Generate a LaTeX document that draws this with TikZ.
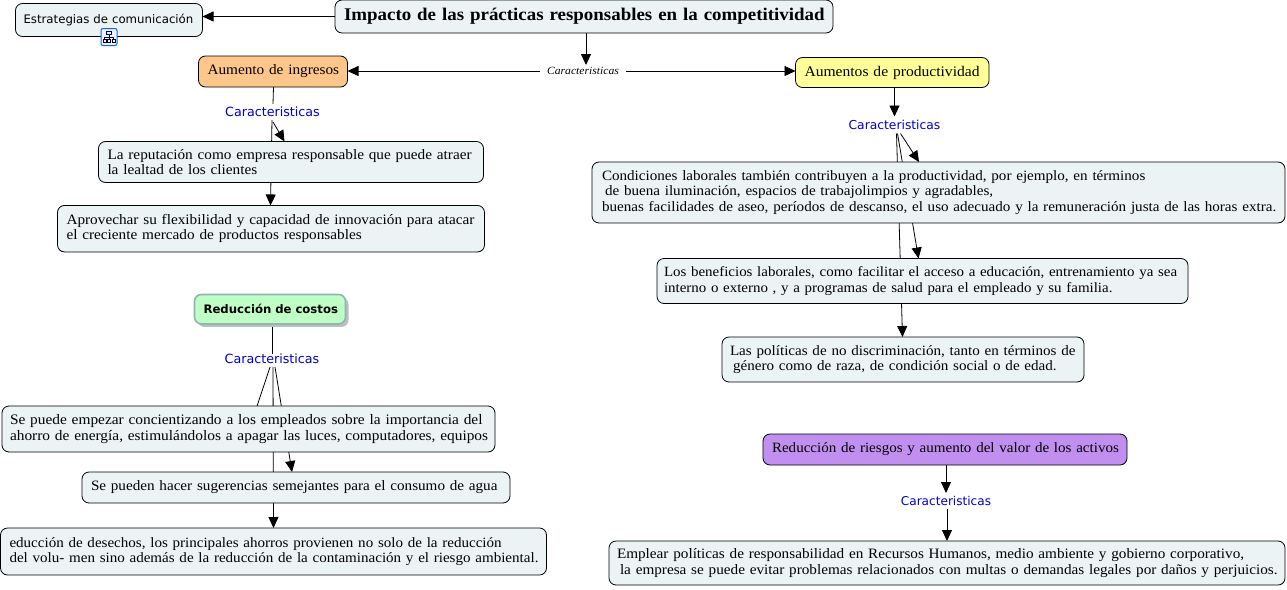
\documentclass[tikz,border=0pt]{standalone}
\usepackage{fontspec}
\setmainfont[FakeStretch=1.06]{Liberation Serif}
\newfontfamily\sansf{DejaVu Sans}
\usetikzlibrary{arrows.meta,backgrounds,shadows}
\newcommand\oneline[1]{\mbox{}\rlap{#1}}
\definecolor{boxfill}{HTML}{ECF3F5}
\definecolor{linkblue}{HTML}{0000CC}
\definecolor{peach}{HTML}{FFC68C}
\definecolor{lemon}{HTML}{FFFF99}
\definecolor{mint}{HTML}{BFFFC5}
\definecolor{mintedge}{HTML}{8FB5B5}
\definecolor{violet}{HTML}{C08FF0}
\tikzset{
  concept/.style={draw=black,line width=0.8pt,rounded corners=7pt,fill=boxfill,anchor=west,align=left,
    inner xsep=9pt,inner ysep=0pt,outer sep=0pt},
  fs/.style={font=\fontsize{#1}{15.5}\selectfont},
  carac/.style={anchor=center,inner sep=0pt,outer sep=0pt,minimum height=16pt,text=linkblue,font=\sansf\fontsize{#1}{14}\selectfont},
  conn/.style={draw=black,line width=0.8pt},
  arr/.style={conn,-{Triangle[length=11pt,width=10pt]}}
}
\begin{document}
\begin{tikzpicture}[x=1pt,y=-1pt]
\useasboundingbox (0,0) rectangle (1287,589);
% top
\node[concept,text width=171pt,minimum height=33pt,inner xsep=8pt,font=\sansf\fontsize{11.75}{14}\selectfont] (estr) at (15.5,20) {\oneline{Estrategias de comunicación}};
\node[concept,text width=480pt,minimum height=33pt,font=\fontsize{17.85}{20}\selectfont\bfseries] (main) at (335,16.5) {\oneline{Impacto de las prácticas responsables en la competitividad}};
\node[anchor=center,inner xsep=7pt,inner ysep=0pt,outer sep=0pt,minimum height=12pt,font=\fontsize{11}{12}\selectfont\itshape] (lk) at (583,71) {Caracteristicas};
\node[concept,fill=peach,fs=14.4,text width=131pt,minimum height=31pt] (ing) at (198.5,71.5) {\oneline{Aumento de ingresos}};
\node[concept,fill=lemon,fs=14.7,text width=175.5pt,minimum height=30pt] (prod) at (795.5,72.5) {\oneline{Aumentos de productividad}};
% left column
\node[carac=12.7] (c1) at (272.5,112) {Caracteristicas};
\node[concept,fs=14.4,text width=367pt,minimum height=41pt] (rep) at (98.5,162) {\oneline{La reputación como empresa responsable que puede atraer}\\\oneline{la lealtad de los clientes}};
\node[concept,fs=14.4,text width=409pt,minimum height=46.5pt] (apr) at (57.5,228.7) {\oneline{Aprovechar su flexibilidad y capacidad de innovación para atacar}\\\oneline{el creciente mercado de productos responsables}};
% costs
\node[concept,fill=mint,draw=mintedge,line width=1.6pt,text width=133pt,minimum height=29.5pt,
  font=\sansf\bfseries\fontsize{11.7}{14}\selectfont,drop shadow={shadow xshift=3pt,shadow yshift=-3pt,fill=black!25,opacity=1}] (cos) at (194.5,309.2) {\oneline{Reducción de costos}};
\node[carac=12.7] (c3) at (272,359) {Caracteristicas};
\node[concept,fs=14.5,inner xsep=8pt,text width=477pt,minimum height=46pt] (sep) at (2,429) {\oneline{Se puede empezar concientizando a los empleados sobre la importancia del}\\\oneline{ahorro de energía, estimulándolos a apagar las luces, computadores, equipos}};
\node[concept,fs=14.3,text width=410pt,minimum height=31pt] (agu) at (82,487.5) {\oneline{Se pueden hacer sugerencias semejantes para el consumo de agua}};
\node[concept,fs=14.2,text width=528pt,minimum height=47pt] (edu) at (0.5,551.5) {\oneline{educción de desechos, los principales ahorros provienen no solo de la reducción}\\\oneline{del volu- men sino además de la reducción de la contaminación y el riesgo ambiental.}};
% right column
\node[carac=12.3] (c2) at (894.5,124.5) {Caracteristicas};
\node[concept,fs=14.25,inner xsep=10pt,text width=673pt,minimum height=61pt] (con) at (592,192.5) {\oneline{Condiciones laborales también contribuyen a la productividad, por ejemplo, en términos}\\\oneline{\hspace*{3pt}de buena iluminación, espacios de trabajolimpios y agradables,}\\\oneline{buenas facilidades de aseo, períodos de descanso, el uso adecuado y la remuneración justa de las horas extra.}};
\node[concept,fs=14.1,inner xsep=7pt,text width=517pt,minimum height=45pt] (ben) at (657,281) {\oneline{Los beneficios laborales, como facilitar el acceso a educación, entrenamiento ya sea}\\\oneline{interno o externo , y a programas de salud para el empleado y su familia.}};
\node[concept,fs=14.25,inner xsep=8pt,text width=346pt,minimum height=45pt] (pol) at (722,359.5) {\oneline{Las políticas de no discriminación, tanto en términos de}\\\oneline{\hspace*{3pt}género como de raza, de condición social o de edad.}};
\node[concept,fill=violet,fs=14.2,text width=346pt,minimum height=31pt] (rie) at (763,449.5) {\oneline{Reducción de riesgos y aumento del valor de los activos}};
\node[carac=12.1] (c4) at (946,501) {Caracteristicas};
\node[concept,fs=14.35,inner xsep=8pt,text width=660pt,minimum height=44pt] (emp) at (609,563) {\oneline{Emplear políticas de responsabilidad en Recursos Humanos, medio ambiente y gobierno corporativo,}\\\oneline{\hspace*{3pt}la empresa se puede evitar problemas relacionados con multas o demandas legales por daños y perjuicios.}};
% map icon
\node[draw=blue!60!cyan,line width=1pt,rounded corners=2pt,fill=blue!5,minimum width=16pt,minimum height=17pt,inner sep=0pt] (icon) at (109,37) {};
\draw[draw=blue!40!black,line width=0.7pt] (icon.center) ++(-2.5,-6) rectangle ++(5,3)
  (icon.center) ++(0,-3) -- ++(0,3) (icon.center) ++(-4.5,2) -- ++(0,-2) -- ++(9,0) -- ++(0,2)
  (icon.center) ++(0,0) -- ++(0,2);
\draw[draw=black,line width=0.7pt] (icon.center) ++(-6,2) rectangle ++(3,3) (icon.center) ++(-1.5,2) rectangle ++(3,3) (icon.center) ++(3,2) rectangle ++(3,3);
% connectors
\begin{scope}[on background layer]
\draw[arr] (main.west) -- (main.west -| estr.east);
\draw[arr] ([xshift=2pt]main.south) -- ([xshift=3pt]lk.north);
\draw[arr] (lk.west) -- (lk.west -| ing.east);
\draw[arr] (lk.east) -- (lk.east -| prod.west);
\draw[conn] ([xshift=0.5pt]ing.south) -- ([xshift=0.5pt]c1.north);
\draw[arr] ([xshift=0.5pt,yshift=-2pt]c1.south) -- ([xshift=-199pt]rep.north east);
\draw[arr] ([xshift=-0.5pt]c1.south) -- ([xshift=-214pt]apr.north east);
\draw[conn] ([xshift=2pt]cos.south) -- ([yshift=-3pt]c3.north);
\draw[conn] ([xshift=-2pt]c3.south) -- ([xshift=-238pt]sep.north east);
\draw[arr] ([xshift=3pt]c3.south) -- ([xshift=-218pt]agu.north east);
\draw[arr] ([xshift=1pt]c3.south) -- ([xshift=-273pt]edu.north east);
\draw[arr] (prod.south -| c2.north) -- (c2.north);
\draw[arr] ([xshift=6pt,yshift=-1pt]c2.south) -- ([xshift=-366pt]con.north east);
\draw[arr] ([xshift=3pt,yshift=-1pt]c2.south) -- ([xshift=-269.5pt]ben.north east);
\draw[arr] ([xshift=2pt,yshift=-1pt]c2.south) -- ([xshift=-181.5pt]pol.north east);
\draw[arr] (rie.south -| c4.north) -- (c4.north);
\draw[arr] ([xshift=1pt]c4.south) -- ([xshift=-338pt]emp.north east);
\end{scope}
\end{tikzpicture}
\end{document}
